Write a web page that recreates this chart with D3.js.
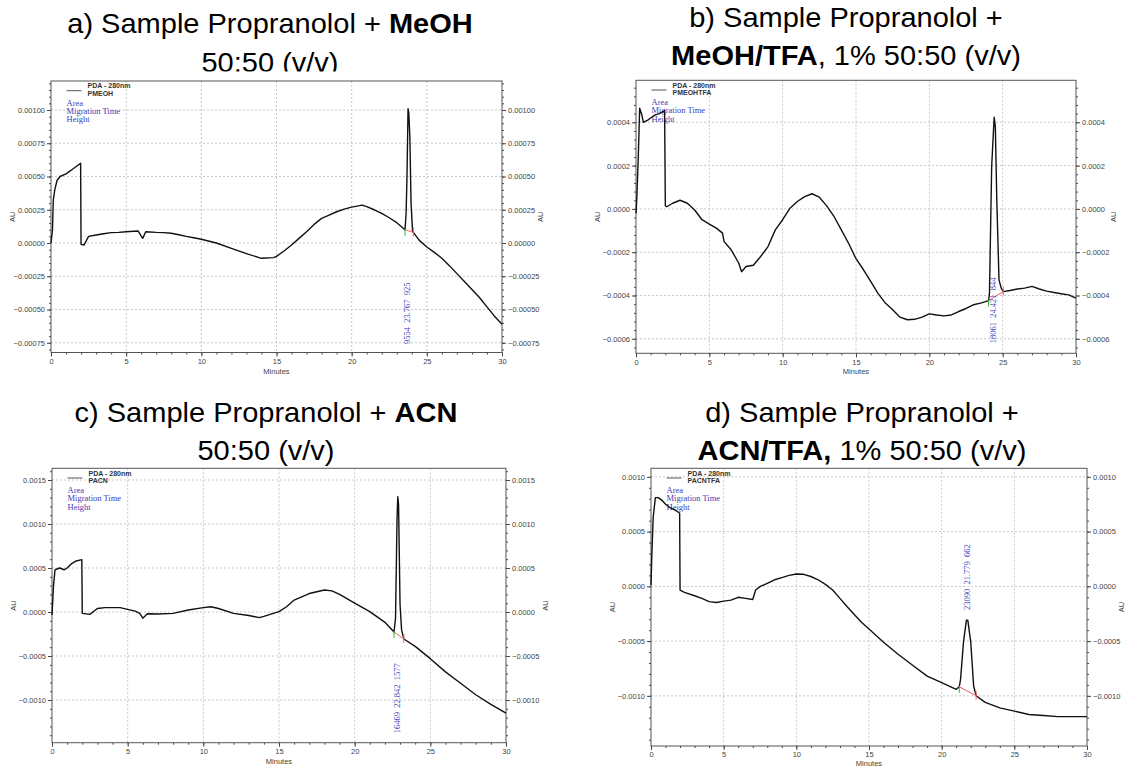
<!DOCTYPE html>
<html>
<head>
<meta charset="utf-8">
<script src="https://cdn.jsdelivr.net/npm/d3@7"></script>
<style>
  body { margin: 0; background: #fff; }
  svg { display: block; }
  .title { font-family: "Liberation Sans", Arial, sans-serif; fill: #000; }
  .tick-label { font-family: "Liberation Sans", Arial, sans-serif; font-size: 7.5px; fill: #444; }
  .axis-name { font-family: "Liberation Sans", Arial, sans-serif; font-size: 7.5px; fill: #444; }
  .legend { font-family: "Liberation Sans", Arial, sans-serif; font-size: 7px; font-weight: bold; fill: #333; }
  .blue { font-family: "Liberation Serif", "Times New Roman", serif; font-size: 8.5px; fill: #4040b8; }
  .grid { stroke: #c8c8c8; stroke-dasharray: 2,2; }
  .trace { fill: none; stroke: #111; stroke-width: 1.4; stroke-linejoin: round; }
</style>
</head>
<body>
<svg id="chart" width="1126" height="767"></svg>
<script>
// ---- data (minutes, AU) ----
const timeA = [0, 0.05, 0.1, 0.15, 0.25, 0.4, 0.6, 1.0, 1.5, 1.97, 2.0, 2.2, 2.5, 3, 3.5, 4, 4.5, 5, 5.5, 5.8, 6.1, 6.3, 7, 7.5, 8, 8.5, 9, 9.5, 10, 11, 12, 13, 14, 14.8, 15, 15.5, 16, 16.5, 17, 17.5, 18, 18.5, 19, 19.5, 20, 20.7, 21, 21.5, 22, 22.5, 23, 23.55, 23.62, 23.68, 23.75, 23.8, 23.87, 23.95, 24.05, 24.1, 24.5, 25, 25.5, 26, 26.5, 27, 27.5, 28, 28.5, 29, 29.5, 30];
const auA = [0, 0.00005, 0.0001, 0.00032, 0.0004, 0.00047, 0.0005, 0.00052, 0.00056, 0.0006, -0.00001, -0.000015, 0.00005, 0.00006, 0.00007, 0.000078, 0.00008, 0.000085, 0.000088, 0.00009, 0.000035, 0.000085, 0.00008, 0.000078, 0.000073, 0.000062, 0.00005, 0.00004, 0.000028, 0, -0.00004, -0.00008, -0.000115, -0.00011, -0.0001, -0.00006, -0.000015, 0.000035, 0.000085, 0.00014, 0.000185, 0.00021, 0.000235, 0.000255, 0.00027, 0.000285, 0.000273, 0.00025, 0.000223, 0.00019, 0.000153, 0.0001, 0.00022, 0.0005, 0.00101, 0.00098, 0.0008, 0.0003, 0.00009, 0.00008, 0.00002, -0.00003, -0.00007, -0.000115, -0.00017, -0.00023, -0.00029, -0.00035, -0.00041, -0.00048, -0.00055, -0.00061];

const timeB = [0, 0.05, 0.15, 0.25, 0.4, 0.5, 0.8, 1.0, 1.3, 1.6, 1.95, 2.0, 2.1, 2.5, 3, 3.5, 4, 4.5, 5, 5.5, 5.9, 6.0, 6.5, 7, 7.2, 7.5, 8, 8.5, 9, 9.5, 10, 10.5, 11, 11.5, 12, 12.5, 13, 13.5, 14, 14.5, 15, 15.5, 16, 16.5, 17, 17.5, 18, 18.5, 19, 19.5, 20, 20.5, 21, 21.5, 22, 22.5, 23, 23.5, 24.04, 24.1, 24.25, 24.42, 24.5, 24.6, 24.75, 24.9, 25.04, 25.5, 26, 26.5, 27, 27.5, 28, 28.5, 29, 29.5, 30];
const auB = [-0.00002, 0.00004, 0.000226, 0.000465, 0.000434, 0.0004, 0.00041, 0.00042, 0.000434, 0.00044, 0.000454, 0.000014, 0.00001, 0.000026, 0.00004, 0.000026, -0.000005, -0.00005, -0.00007, -0.00009, -0.000112, -0.00015, -0.00019, -0.00025, -0.00029, -0.000266, -0.00026, -0.00022, -0.000174, -0.000097, -0.00005, 0.000003, 0.000034, 0.000057, 0.00007, 0.000054, 0.000014, -0.000035, -0.000097, -0.00016, -0.00023, -0.00028, -0.000335, -0.00039, -0.000435, -0.000466, -0.0005, -0.000512, -0.00051, -0.0005, -0.000485, -0.00049, -0.000494, -0.00049, -0.000474, -0.00046, -0.000443, -0.000435, -0.000424, -0.00039, 0.000195, 0.000423, 0.00038, 0.00004, -0.000328, -0.000366, -0.000382, -0.000377, -0.00037, -0.000366, -0.000358, -0.00037, -0.00038, -0.000386, -0.000392, -0.000397, -0.000412];

const timeC = [0, 0.1, 0.2, 0.5, 0.8, 1.0, 1.3, 1.6, 1.97, 2.0, 2.5, 3, 3.5, 4, 4.5, 5, 5.5, 5.8, 6.0, 6.3, 7, 8, 9, 10, 10.5, 11, 12, 13, 13.7, 14, 15, 15.5, 16, 17, 18, 18.5, 19, 20, 21, 22, 22.6, 22.7, 22.8, 22.85, 22.9, 23.0, 23.1, 23.25, 24, 25, 26, 27, 28, 29, 30];
const auC = [-0.000034, 0.0003, 0.00048, 0.0005, 0.00048, 0.0005, 0.00055, 0.00058, 0.000595, -0.000015, -0.000027, 0.00004, 0.00005, 0.00005, 0.00005, 0.00003, 0.00001, -0.000015, -0.00007, -0.00002, -0.000023, -0.000015, 0.000023, 0.00005, 0.00006, 0.00004, -0.000015, -0.00004, -0.000064, -0.00005, 0.000004, 0.00006, 0.000136, 0.00021, 0.00025, 0.00024, 0.0002, 0.0001, 0.000004, -0.000117, -0.000227, -0.00007, 0.00106, 0.00131, 0.00122, 0.00008, -0.0002, -0.000307, -0.00039, -0.00053, -0.00068, -0.00081, -0.00094, -0.00105, -0.00115];

const timeD = [0, 0.05, 0.15, 0.3, 0.5, 0.8, 1.0, 1.3, 1.6, 1.97, 2.0, 2.3, 3, 3.5, 4, 4.5, 5, 5.5, 6, 6.5, 7.0, 7.2, 7.5, 8, 8.5, 9, 9.5, 10, 10.5, 11, 11.5, 12, 12.5, 13, 13.5, 14, 14.5, 15, 16, 17, 18, 19, 20, 21, 21.21, 21.3, 21.5, 21.7, 21.8, 22.0, 22.2, 22.37, 23, 24, 25, 26, 27, 28, 29, 30];
const auD = [0.00001, 0.00026, 0.00063, 0.00081, 0.00081, 0.00078, 0.00075, 0.00072, 0.0007, 0.00067, -0.000034, -0.000055, -0.000086, -0.00011, -0.00014, -0.000147, -0.000135, -0.000126, -0.0001, -0.00011, -0.00012, -0.000034, -0.000003, 0.000028, 0.00006, 0.00008, 0.0001, 0.000113, 0.00011, 0.00009, 0.00006, 0.000018, -0.000034, -0.00011, -0.000187, -0.00026, -0.00033, -0.00039, -0.00051, -0.00062, -0.00072, -0.00082, -0.00088, -0.00094, -0.000917, -0.00085, -0.00051, -0.00031, -0.00031, -0.00051, -0.00091, -0.000999, -0.00106, -0.00111, -0.00114, -0.00117, -0.00118, -0.00119, -0.00119, -0.00119];

// axis ticks
const xTicks = [0, 5, 10, 15, 20, 25, 30];
const yTicksA = [-0.00075, -0.0005, -0.00025, 0, 0.00025, 0.0005, 0.00075, 0.001];
const yTicksB = [-0.0006, -0.0004, -0.0002, 0, 0.0002, 0.0004];
const yTicksC = [-0.001, -0.0005, 0, 0.0005, 0.001, 0.0015];
const yTicksD = [-0.001, -0.0005, 0, 0.0005, 0.001];

// legend sample names
const sampleNames = ["PMEOH", "PMEOHTFA", "PACN", "PACNTFA"];
// peak results: area, migration time, height
const peakA = ["9554", "23.767", "925"];
const peakB = ["18061", "24.421", "844"];
const peakC = ["16469", "22.842", "1577"];
const peakD = ["23090", "21.779", "662"];
// integration baseline [startTime, startAU, endTime, endAU]
const baseA = [23.55, 0.0001, 24.1, 0.00008];
const baseB = [24.04, -0.000424, 25.04, -0.000382];
const baseC = [22.6, -0.000227, 23.25, -0.000307];
const baseD = [21.21, -0.000917, 22.37, -0.000999];

// titles: [text, bold?] parts per line
const titleA = [[["a) Sample Propranolol + ", false], ["MeOH", true]], [["50:50 (v/v)", false]]];
const titleB = [[["b) Sample Propranolol +", false]], [["MeOH/TFA", true], [", 1% 50:50 (v/v)", false]]];
const titleC = [[["c) Sample Propranolol + ", false], ["ACN", true]], [["50:50 (v/v)", false]]];
const titleD = [[["d) Sample Propranolol +", false]], [["ACN/TFA,", true], [" 1% 50:50 (v/v)", false]]];

// ---- layout ----
const panels = [
  { title: titleA, titleX: 270, titleY: [33.3, 71.5], cover: 71.5, box: [0, 560],
    frame: { l: 51, r: 502, t: 81, b: 352.5 }, yDomain: [-0.000823, 0.001218],
    yTicks: yTicksA, yMinor: 0.00005, fmt: ".5f", time: timeA, au: auA,
    name: sampleNames[0], peak: peakA, base: baseA, annBottom: 344, auR: 540, minY: 21 },
  { title: titleB, titleX: 846, titleY: [26.7, 65], cover: null,
    frame: { l: 636, r: 1076, t: 80.3, b: 353.3 }, yDomain: [-0.000667, 0.000594],
    yTicks: yTicksB, yMinor: 0.00004, fmt: ".4f", time: timeB, au: auB,
    name: sampleNames[1], peak: peakB, base: baseB, annBottom: 343.3, auR: 1113, minY: 21 },
  { title: titleC, titleX: 266, titleY: [422.3, 460], cover: null,
    frame: { l: 52, r: 506, t: 468.3, b: 742.7 }, yDomain: [-0.001485, 0.001633],
    yTicks: yTicksC, yMinor: 0.0001, fmt: ".4f", time: timeC, au: auC,
    name: sampleNames[2], peak: peakC, base: baseC, annBottom: 733.3, auR: 545, minY: 21 },
  { title: titleD, titleX: 862, titleY: [421.7, 460], cover: null,
    frame: { l: 651, r: 1087, t: 468.3, b: 746 }, yDomain: [-0.001458, 0.001078],
    yTicks: yTicksD, yMinor: 0.0001, fmt: ".4f", time: timeD, au: auD,
    name: sampleNames[3], peak: peakD, base: baseD, annBottom: 610, auR: 1121, minY: 20 }
];

const svg = d3.select("#chart");

function drawTitle(p) {
  const g = svg.append("g");
  p.title.forEach((line, i) => {
    const t = g.append("text")
      .attr("class", "title")
      .attr("text-anchor", "middle")
      .attr("font-size", 27)
      .attr("transform", `translate(${p.titleX},${p.titleY[i]}) scale(1.075,1)`);
    line.forEach(([s, bold]) => {
      t.append("tspan").attr("font-weight", bold ? "bold" : "normal").text(s);
    });
  });
  if (p.cover != null) {
    g.append("rect").attr("x", p.box[0]).attr("y", p.cover)
      .attr("width", p.box[1] - p.box[0]).attr("height", 20).attr("fill", "#fff");
  }
}

function drawPanel(p) {
  const f = p.frame;
  const x = d3.scaleLinear([0, 30], [f.l, f.r]);
  const y = d3.scaleLinear(p.yDomain, [f.b, f.t]);
  const fmt = d3.format(p.fmt);
  const g = svg.append("g");

  // grid
  g.selectAll(".gx").data(xTicks.slice(1, -1)).join("line")
    .attr("class", "grid")
    .attr("x1", (d) => x(d)).attr("x2", (d) => x(d))
    .attr("y1", f.t).attr("y2", f.b);
  g.selectAll(".gy").data(p.yTicks).join("line")
    .attr("class", "grid")
    .attr("x1", f.l).attr("x2", f.r)
    .attr("y1", (d) => y(d)).attr("y2", (d) => y(d));

  // axes with minor ticks
  const minorX = d3.range(0, 31, 1);
  const minorY = d3.range(Math.ceil(p.yDomain[0] / p.yMinor), Math.floor(p.yDomain[1] / p.yMinor) + 1)
    .map((k) => k * p.yMinor);

  const axB = d3.axisBottom(x).tickValues(minorX).tickSize(2).tickFormat("");
  const axBMajor = d3.axisBottom(x).tickValues(xTicks).tickSize(4).tickPadding(2).tickFormat(d3.format("d"));
  const axL = d3.axisLeft(y).tickValues(minorY).tickSize(2).tickFormat("");
  const axLMajor = d3.axisLeft(y).tickValues(p.yTicks).tickSize(4).tickPadding(2).tickFormat(fmt);
  const axR = d3.axisRight(y).tickValues(minorY).tickSize(2).tickFormat("");
  const axRMajor = d3.axisRight(y).tickValues(p.yTicks).tickSize(4).tickPadding(2).tickFormat(fmt);

  const styleAxis = (sel) => {
    sel.select(".domain").remove();
    sel.selectAll("line").attr("stroke", "#444");
    sel.selectAll("text").attr("class", "tick-label").attr("font-size", null).attr("font-family", null).attr("fill", null);
  };
  g.append("g").attr("transform", `translate(0,${f.b})`).call(axB).call(styleAxis);
  g.append("g").attr("transform", `translate(0,${f.b})`).call(axBMajor).call(styleAxis);
  g.append("g").attr("transform", `translate(${f.l},0)`).call(axL).call(styleAxis);
  g.append("g").attr("transform", `translate(${f.l},0)`).call(axLMajor).call(styleAxis);
  g.append("g").attr("transform", `translate(${f.r},0)`).call(axR).call(styleAxis);
  g.append("g").attr("transform", `translate(${f.r},0)`).call(axRMajor).call(styleAxis);

  // frame
  g.append("rect").attr("x", f.l).attr("y", f.t)
    .attr("width", f.r - f.l).attr("height", f.b - f.t)
    .attr("fill", "none").attr("stroke", "#555").attr("stroke-width", 1);

  // axis names
  g.append("text").attr("class", "axis-name").attr("text-anchor", "middle")
    .attr("x", (f.l + f.r) / 2).attr("y", f.b + p.minY).text("Minutes");
  const midY = (f.t + f.b) / 2;
  g.append("text").attr("class", "axis-name").attr("text-anchor", "middle")
    .attr("transform", `translate(${f.l - 36},${midY}) rotate(-90)`).text("AU");
  g.append("text").attr("class", "axis-name").attr("text-anchor", "middle")
    .attr("transform", `translate(${p.auR + 2.5},${midY}) rotate(-90)`).text("AU");

  // legend
  g.append("line").attr("x1", f.l + 15.5).attr("x2", f.l + 30.5)
    .attr("y1", f.t + 9.7).attr("y2", f.t + 9.7).attr("stroke", "#555");
  g.append("text").attr("class", "legend").attr("x", f.l + 36.5).attr("y", f.t + 7.3).text("PDA - 280nm");
  g.append("text").attr("class", "legend").attr("x", f.l + 36.5).attr("y", f.t + 14.7).text(p.name);
  ["Area", "Migration Time", "Height"].forEach((s, i) => {
    g.append("text").attr("class", "blue").attr("x", f.l + 15.5).attr("y", f.t + 24.7 + i * 8.3).text(s);
  });

  // trace
  const pts = p.time.map((t, i) => [t, p.au[i]]);
  g.append("path").attr("class", "trace")
    .attr("d", d3.line().x((d) => x(d[0])).y((d) => y(d[1]))(pts));

  // integration baseline
  const [t0, v0, t1, v1] = p.base;
  g.append("line").attr("x1", x(t0)).attr("y1", y(v0)).attr("x2", x(t1)).attr("y2", y(v1))
    .attr("stroke", "#f06060").attr("stroke-width", 1);
  g.append("line").attr("x1", x(t0)).attr("x2", x(t0)).attr("y1", y(v0) - 1).attr("y2", y(v0) + 6)
    .attr("stroke", "#20c020").attr("stroke-width", 1);
  g.append("line").attr("x1", x(t1)).attr("x2", x(t1)).attr("y1", y(v1) - 5).attr("y2", y(v1) + 4)
    .attr("stroke", "#f06060").attr("stroke-width", 1);

  // peak label
  const tp = +p.peak[1];
  g.append("text").attr("class", "blue")
    .attr("xml:space", "preserve").style("white-space", "pre")
    .attr("transform", `translate(${x(tp) + 2},${p.annBottom}) rotate(-90)`)
    .text(p.peak.join("  "));
}

panels.forEach((p) => {
  drawTitle(p);
});
panels.forEach((p) => {
  drawPanel(p);
});
</script>
</body>
</html>
